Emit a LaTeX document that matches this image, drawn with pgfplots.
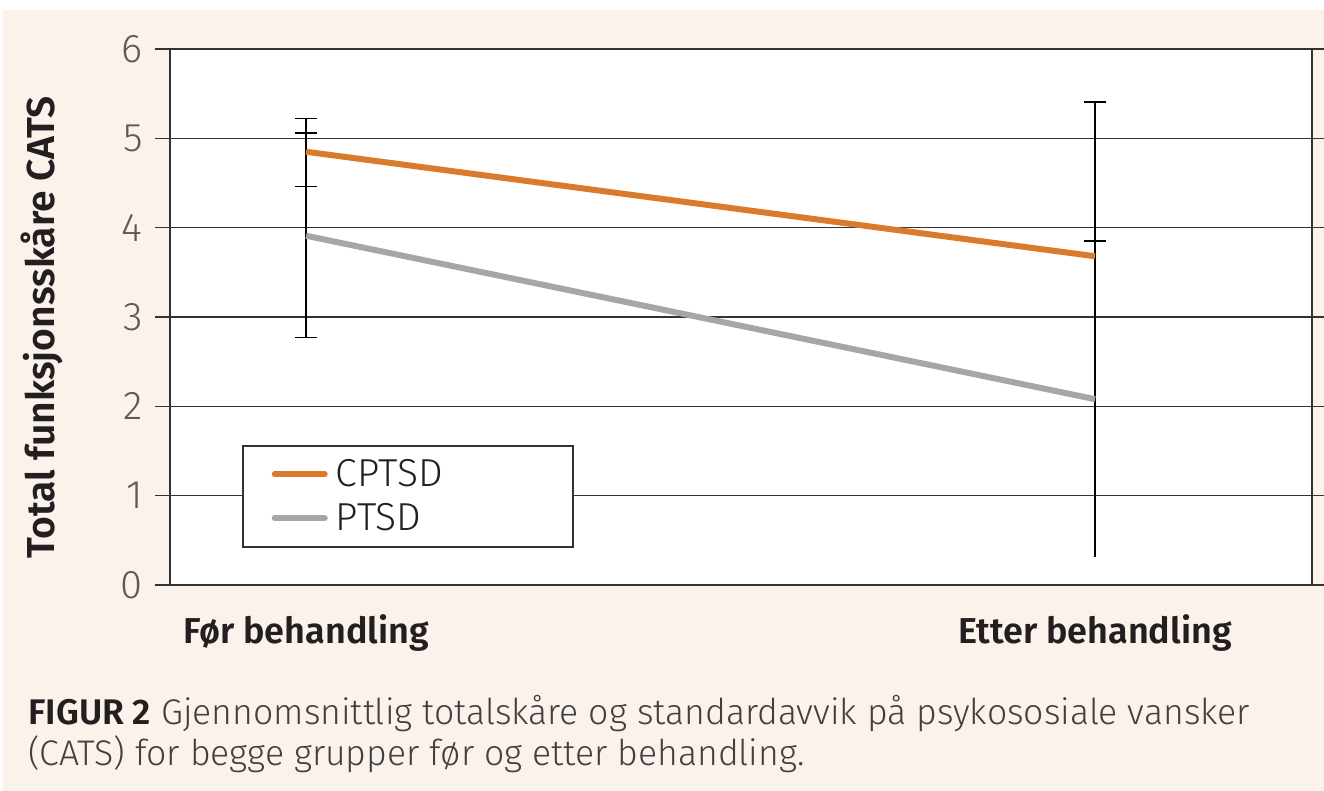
\documentclass[border=0pt]{standalone}
\usepackage{fontspec}
\setmainfont{Fira Sans}[UprightFont={* Light}, BoldFont={* SemiBold}]
\usepackage{pgfplots}
\pgfplotsset{compat=1.18}
\definecolor{bgc}{HTML}{FBF2EC}
\definecolor{axc}{HTML}{333333}
\definecolor{orc}{HTML}{D97A2C}
\definecolor{grc}{HTML}{A6A6A6}
\definecolor{tickc}{HTML}{5A5A5A}
\definecolor{txt}{HTML}{231F20}
\definecolor{captc}{HTML}{404040}
\newcommand{\xlab}{\fontsize{18}{21}\selectfont}
\newcommand{\ylab}{\fontsize{19.5}{23}\selectfont}
\newcommand{\legf}{\fontsize{19.5}{23}\selectfont}
\newcommand{\capf}{\fontsize{17.8}{21}\selectfont}
\newcommand{\tickf}{\fontsize{20}{23}\selectfont}
\begin{document}
\begin{tikzpicture}
\useasboundingbox (0,0) rectangle (662pt,-395.5pt);
\begin{scope}[x=0.5pt,y=-0.5pt]
\fill[white] (0,0) rectangle (1324,791);
\fill[bgc] (3,10) rectangle (1324,791);
\end{scope}
\begin{axis}[
  at={(85pt,-292.5pt)}, anchor=south west,
  scale only axis, width=571pt, height=268pt,
  xmin=-0.1724, xmax=1.275, ymin=0, ymax=6,
  axis background/.style={fill=white},
  axis line style={line width=0.8pt, draw=axc},
  xtick={0,1}, xticklabels={Før behandling,Etter behandling},
  ytick={0,1,2,3,4,5,6},
  /pgf/number format/assume math mode=true,
  ymajorgrids, major grid style={line width=0.8pt, draw=axc},
  tick align=outside,
  major tick length=7.5pt,
  x tick style={draw=none},
  y tick style={line width=0.8pt, draw=axc},
  xticklabel style={font=\xlab\bfseries, text=txt, inner sep=0pt, yshift=-7pt, anchor=north},
  yticklabel style={font=\tickf, text=tickc, inner sep=0pt, xshift=-6pt},
  ylabel={Total funksjonsskåre CATS},
  ylabel style={font=\ylab\bfseries, text=txt, at={(axis description cs:-0.112,0.481)}, anchor=center},
  legend style={at={(rel axis cs:0.063,0.261)}, anchor=north west, draw=axc, line width=0.8pt, fill=white,
    font=\legf, text=txt, inner xsep=14.5pt, inner ysep=4.7pt, row sep=2.9pt, column sep=0pt,
    nodes={inner xsep=4pt, inner ysep=2pt}},
  legend cell align=left,
  legend image code/.code={\draw[#1, line cap=round] (0pt,0pt) -- (25pt,0pt);},
]
% error bars (drawn first, lines on top)
\addplot[black, line width=0.8pt, mark=none, forget plot,
  error bars/.cd, y dir=both, y explicit,
  error bar style={line width=0.8pt, black},
  error mark options={rotate=90, line width=0.8pt, black, mark size=5.5pt}]
  coordinates {(0,4.85) += (0,0.37) -= (0,0.39) (0,3.91) += (0,1.15) -= (0,1.14)};
\addplot[black, line width=0.8pt, mark=none, forget plot,
  error bars/.cd, y dir=plus, y explicit,
  error bar style={line width=0.8pt, black},
  error mark options={rotate=90, line width=0.8pt, black, mark size=5.5pt}]
  coordinates {(1,3.68) +- (0,1.73) (1,2.08) +- (0,1.77)};
\addplot[black, line width=0.8pt, mark=none, forget plot,
  error bars/.cd, y dir=minus, y explicit,
  error bar style={line width=0.8pt, black},
  error mark options={rotate=90, line width=1.6pt, white, mark size=5.5pt}]
  coordinates {(1,3.68) +- (0,1.71)};
\addplot[black, line width=0.8pt, mark=none, forget plot,
  error bars/.cd, y dir=minus, y explicit,
  error bar style={line width=0.8pt, black},
  error mark=none]
  coordinates {(1,2.08) +- (0,1.77)};
% means
\addplot[orc, line width=3pt] coordinates {(0,4.85) (1,3.68)};
\addlegendentry{\makebox[100pt][l]{CPTSD}}
\addplot[grc, line width=3pt] coordinates {(0,3.91) (1,2.08)};
\addlegendentry{\makebox[100pt][l]{PTSD}}
\end{axis}
\begin{scope}[x=0.5pt,y=-0.5pt]
\node[anchor=base west, inner sep=0pt, font=\capf, text=captc] at (28,724)
  {\textbf{\textcolor{txt}{FIGUR 2}} Gjennomsnittlig totalskåre og standardavvik på psykososiale vansker};
\node[anchor=base west, inner sep=0pt, font=\capf, text=captc] at (28,765)
  {(CATS) for begge grupper før og etter behandling.};
\end{scope}
\end{tikzpicture}
\end{document}
